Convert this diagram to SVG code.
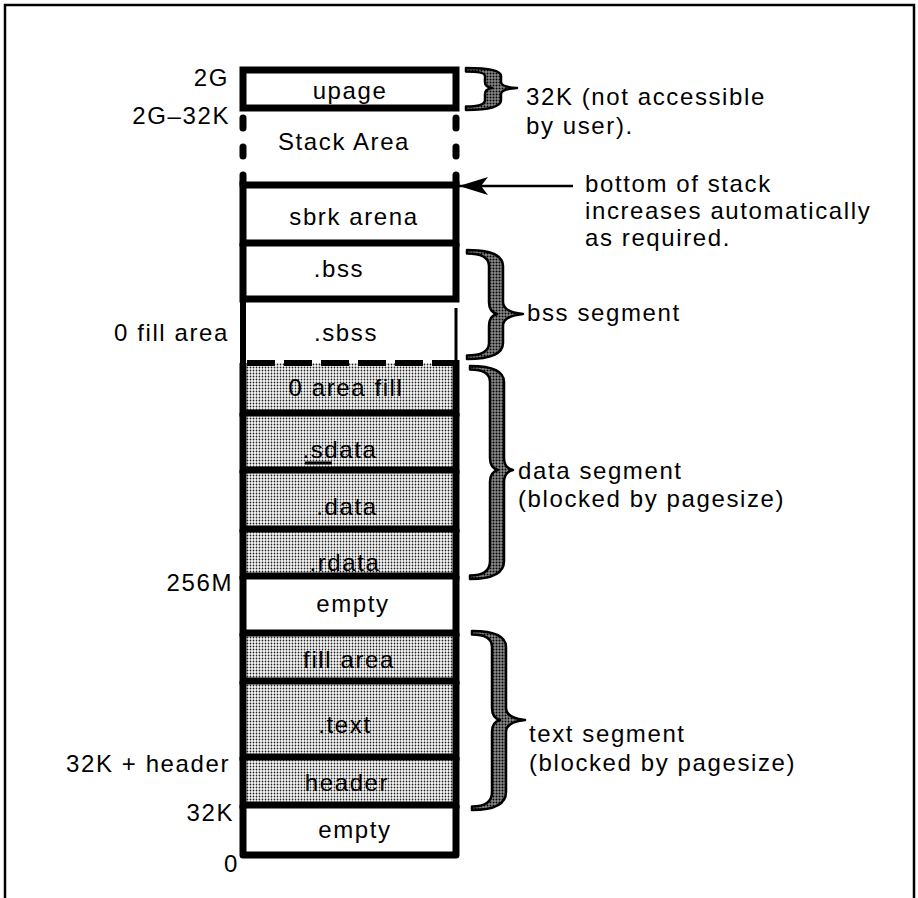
<svg xmlns="http://www.w3.org/2000/svg" width="918" height="898" viewBox="0 0 918 898">
<defs>
  <pattern id="lite" width="3" height="3" patternUnits="userSpaceOnUse">
    <rect width="3" height="3" fill="#fafafa"/>
    <circle cx="1.5" cy="1.5" r="0.9" fill="#222"/>
  </pattern>
  <pattern id="dark" width="3" height="3" patternUnits="userSpaceOnUse">
    <rect width="3" height="3" fill="#8a8a8a"/>
    <circle cx="1.5" cy="1.5" r="1" fill="#000"/>
  </pattern>
  <marker id="arr" viewBox="0 0 30 20" refX="29" refY="10" markerWidth="30" markerHeight="20" markerUnits="userSpaceOnUse" orient="auto">
    <path d="M29,10 L0,1 L7,10 L0,19 Z" fill="#000"/>
  </marker>
  <style>
    text { font-family: "Liberation Sans", Arial, sans-serif; font-size: 24px; letter-spacing: 1.6px; fill: #000; }
    .mid { text-anchor: middle; }
    .end { text-anchor: end; }
    .wall { stroke: #000; stroke-width: 7; fill: none; }
    .dash { stroke: #000; stroke-width: 7; stroke-linecap: round; }
    .brace { fill: url(#dark); stroke: #000; stroke-width: 2.5; stroke-linejoin: round; }
    .frame { fill: none; stroke: #000; stroke-width: 2.5; }
  </style>
</defs>
<rect width="918" height="898" fill="#fff"/>
<path class="frame" d="M5,898 V5 H914 V898"/>

<!-- stippled areas -->
<rect x="243" y="363" width="213" height="213" fill="url(#lite)"/>
<rect x="243" y="633" width="213" height="172" fill="url(#lite)"/>

<g id="upage">
  <rect x="243" y="70" width="213" height="38" class="wall"/>
  <text x="350" y="99" class="mid">upage</text>
</g>
<g id="stack-area">
  <line class="dash" x1="243" y1="118" x2="243" y2="128"/>
  <line class="dash" x1="243" y1="147" x2="243" y2="156"/>
  <line class="dash" x1="456" y1="118" x2="456" y2="128"/>
  <line class="dash" x1="456" y1="147" x2="456" y2="156"/>
  <line class="dash" x1="243" y1="175" x2="243" y2="185"/>
  <line class="dash" x1="456" y1="175" x2="456" y2="185"/>
  <text x="344" y="150" class="mid">Stack Area</text>
</g>
<g id="sbrk-arena">
  <path class="wall" d="M243,185 H456 M243,243 H456 M243,181.5 V246.5 M456,181.5 V246.5"/>
  <text x="354" y="225" class="mid">sbrk arena</text>
</g>
<g id="bss">
  <path class="wall" d="M243,243 V302.5 M456,243 V302.5 M239.5,299 H459.5"/>
  <text x="339" y="277" class="mid">.bss</text>
</g>
<g id="sbss">
  <line x1="243" y1="299" x2="243" y2="366" stroke="#000" stroke-width="6"/>
  <line x1="456" y1="308" x2="456" y2="362" stroke="#000" stroke-width="3"/>
  <line x1="247" y1="363" x2="453" y2="363" stroke="#000" stroke-width="6" stroke-dasharray="28 9"/>
  <text x="346" y="341" class="mid">.sbss</text>
</g>
<g id="zero-area-fill">
  <path class="wall" d="M243,363 V416.5 M456,360 V416.5 M239.5,413 H459.5"/>
  <text x="346" y="396" class="mid">0 area fill</text>
</g>
<g id="sdata">
  <path class="wall" d="M243,413 V473.5 M456,413 V473.5 M239.5,470 H459.5"/>
  <text x="340" y="458" class="mid">.sdata</text>
  <line x1="305" y1="463" x2="332" y2="463" stroke="#000" stroke-width="3"/>
</g>
<g id="data">
  <path class="wall" d="M243,470 V532.5 M456,470 V532.5 M239.5,529 H459.5"/>
  <text x="347" y="515" class="mid">.data</text>
</g>
<g id="rdata">
  <path class="wall" d="M243,529 V579.5 M456,529 V579.5 M239.5,576 H459.5"/>
  <text x="345" y="571" class="mid">.rdata</text>
</g>
<g id="empty-256m">
  <path class="wall" d="M243,576 V636.5 M456,576 V636.5 M239.5,633 H459.5"/>
  <text x="353" y="612" class="mid">empty</text>
</g>
<g id="fill-area">
  <path class="wall" d="M243,633 V684.5 M456,633 V684.5 M239.5,681 H459.5"/>
  <text x="349" y="668" class="mid">fill area</text>
</g>
<g id="text-sec">
  <path class="wall" d="M243,681 V760.5 M456,681 V760.5 M239.5,757 H459.5"/>
  <text x="345" y="733" class="mid">.text</text>
</g>
<g id="header">
  <path class="wall" d="M243,757 V808.5 M456,757 V808.5 M239.5,805 H459.5"/>
  <text x="347" y="791" class="mid">header</text>
</g>
<g id="empty-32k">
  <path class="wall" d="M243,805 V855 H456 V805" stroke-linejoin="round"/>
  <text x="355" y="838" class="mid">empty</text>
</g>

<g id="addresses">
  <text x="229" y="86" class="end">2G</text>
  <text x="230" y="124" class="end">2G–32K</text>
  <text x="229" y="341" class="end">0 fill area</text>
  <text x="233" y="591" class="end">256M</text>
  <text x="230" y="772" class="end">32K + header</text>
  <text x="234" y="821" class="end">32K</text>
  <text x="239" y="872" class="end">0</text>
</g>

<g id="connectors">
  <line x1="573" y1="186" x2="459" y2="186" stroke="#000" stroke-width="2.5" marker-end="url(#arr)"/>
  <path class="brace" d="M466,68 Q501,68 501,76 L501,82 Q501,87 517,88 Q501,89 501,94 L501,100 Q501,110 466,110 L466,106.5 Q485,106.5 485,100 L485,94 Q485,89 492,88 Q485,87 485,82 L485,76 Q485,71.5 466,71.5 Z"/>
  <path class="brace" d="M467,250 Q503,250 503,266 L503,302 Q503,312 523,314 Q503,316 503,326 L503,343 Q503,359 467,359 L467,355.5 Q489,355.5 489,343 L489,326 Q489,316 497,314 Q489,312 489,302 L489,266 Q489,253.5 467,253.5 Z"/>
  <path class="brace" d="M470,366 Q504,366 504,382 L504,458 Q504,468 513,470 Q504,472 504,482 L504,561 Q504,579 470,579 L470,575.5 Q490,575.5 490,561 L490,482 Q490,472 498,470 Q490,468 490,458 L490,382 Q490,369.5 470,369.5 Z"/>
  <path class="brace" d="M472,631 Q506,631 506,647 L506,708 Q506,718 525,720 Q506,722 506,732 L506,792 Q506,810 472,810 L472,806.5 Q492,806.5 492,792 L492,732 Q492,722 500,720 Q492,718 492,708 L492,647 Q492,634.5 472,634.5 Z"/>
</g>

<g id="notes">
  <text x="526" y="105">32K (not accessible</text>
  <text x="526" y="134">by user).</text>
  <text x="585" y="192">bottom of stack</text>
  <text x="585" y="219">increases automatically</text>
  <text x="585" y="246">as required.</text>
  <text x="527" y="321">bss segment</text>
  <text x="518" y="479">data segment</text>
  <text x="518" y="507">(blocked by pagesize)</text>
  <text x="529" y="742">text segment</text>
  <text x="529" y="771">(blocked by pagesize)</text>
</g>
</svg>
